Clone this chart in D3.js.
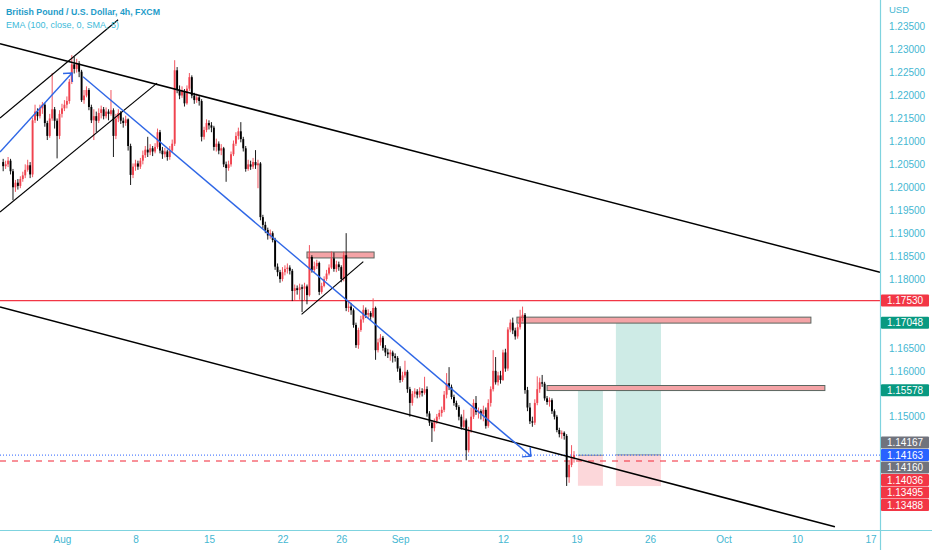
<!DOCTYPE html>
<html>
<head>
<meta charset="utf-8">
<script src="https://cdn.jsdelivr.net/npm/d3@7"></script>
<style>
  body { margin: 0; background: #ffffff; }
  text { font-family: "Liberation Sans", Arial, sans-serif; }
</style>
</head>
<body>
<div class="chart"></div>
<script>
// GBPUSD 4h candles (open = previous close)
let firstOpen = 1.2055;
let closes = [
  1.2046, 1.2050, 1.2058, 1.2035, 1.2000, 1.2010, 1.2003, 1.2018, 1.2026, 1.2038,
  1.2048, 1.2028, 1.2146, 1.2165, 1.2155, 1.2172, 1.2180, 1.2140, 1.2112, 1.2150,
  1.2170, 1.2145, 1.2112, 1.2160, 1.2172, 1.2180, 1.2188, 1.2230, 1.2268, 1.2258,
  1.2270, 1.2252, 1.2190, 1.2200, 1.2212, 1.2175, 1.2146, 1.2155, 1.2145, 1.2162,
  1.2170, 1.2155, 1.2165, 1.2160, 1.2168, 1.2112, 1.2150, 1.2162, 1.2145, 1.2140,
  1.2148, 1.2090, 1.2027, 1.2045, 1.2052, 1.2045, 1.2058, 1.2070, 1.2082, 1.2076,
  1.2085, 1.2078, 1.2088, 1.2120, 1.2080, 1.2072, 1.2078, 1.2066, 1.2080, 1.2095,
  1.2255, 1.2212, 1.2200, 1.2210, 1.2183, 1.2215, 1.2240, 1.2200, 1.2190, 1.2196,
  1.2188, 1.2110, 1.2125, 1.2140, 1.2135, 1.2130, 1.2088, 1.2095, 1.2080, 1.2085,
  1.2050, 1.2042, 1.2050, 1.2072, 1.2095, 1.2112, 1.2122, 1.2105, 1.2085, 1.2040,
  1.2050, 1.2045, 1.2055, 1.2048, 1.2052, 1.1935, 1.1918, 1.1907, 1.1895, 1.1900,
  1.1885, 1.1827, 1.1815, 1.1800, 1.1815, 1.1822, 1.1825, 1.1818, 1.1774, 1.1780,
  1.1776, 1.1782, 1.1779, 1.1784, 1.1765, 1.1848, 1.1820, 1.1828, 1.1835, 1.1772,
  1.1785, 1.1800, 1.1812, 1.1825, 1.1845, 1.1822, 1.1832, 1.1826, 1.1800, 1.1852,
  1.1737, 1.1740, 1.1732, 1.1700, 1.1656, 1.1689, 1.1712, 1.1733, 1.1722, 1.1726,
  1.1718, 1.1737, 1.1645, 1.1662, 1.1672, 1.1650, 1.1640, 1.1636, 1.1640, 1.1632,
  1.1628, 1.1605, 1.1580, 1.1590, 1.1598, 1.1560, 1.1530, 1.1550, 1.1555, 1.1548,
  1.1556, 1.1552, 1.1560, 1.1507, 1.1487, 1.1475, 1.1490, 1.1500, 1.1508, 1.1515,
  1.1548, 1.1573, 1.1565, 1.1543, 1.1530, 1.1521, 1.1500, 1.1478, 1.1492, 1.1427,
  1.1470, 1.1500, 1.1530, 1.1510, 1.1512, 1.1506, 1.1515, 1.1480, 1.1530, 1.1560,
  1.1600, 1.1575, 1.1590, 1.1580, 1.1640, 1.1605, 1.1690, 1.1705, 1.1688, 1.1675,
  1.1695, 1.1717, 1.1722, 1.1558, 1.1520, 1.1490, 1.1487, 1.1530, 1.1560, 1.1575,
  1.1572, 1.1540, 1.1532, 1.1536, 1.1512, 1.1500, 1.1471, 1.1462, 1.1465, 1.1458,
  1.1368, 1.1395, 1.1410, 1.1416
];
let highs = [
  1.2062, 1.2058, 1.2066, 1.2062, 1.2040, 1.2016, 1.2018, 1.2024, 1.2034, 1.2050,
  1.2060, 1.2055, 1.2152, 1.2180, 1.2172, 1.2180, 1.2186, 1.2184, 1.2145, 1.2160,
  1.2249, 1.2175, 1.2150, 1.2168, 1.2182, 1.2190, 1.2198, 1.2236, 1.2288, 1.2284,
  1.2280, 1.2275, 1.2256, 1.2212, 1.2220, 1.2216, 1.2180, 1.2170, 1.2165, 1.2172,
  1.2178, 1.2175, 1.2174, 1.2170, 1.2212, 1.2172, 1.2160, 1.2170, 1.2166, 1.2152,
  1.2156, 1.2150, 1.2095, 1.2052, 1.2060, 1.2058, 1.2064, 1.2080, 1.2090, 1.2110,
  1.2094, 1.2090, 1.2096, 1.2128, 1.2125, 1.2088, 1.2086, 1.2082, 1.2090, 1.2104,
  1.2277, 1.2262, 1.2222, 1.2220, 1.2214, 1.2222, 1.2249, 1.2244, 1.2206, 1.2204,
  1.2200, 1.2192, 1.2132, 1.2148, 1.2146, 1.2142, 1.2134, 1.2106, 1.2100, 1.2094,
  1.2088, 1.2056, 1.2058, 1.2078, 1.2102, 1.2120, 1.2130, 1.2142, 1.2110, 1.2090,
  1.2060, 1.2058, 1.2064, 1.2081, 1.2060, 1.2055, 1.1940, 1.1925, 1.1912, 1.1908,
  1.1904, 1.1890, 1.1834, 1.1820, 1.1826, 1.1830, 1.1834, 1.1830, 1.1822, 1.1788,
  1.1786, 1.1790, 1.1788, 1.1792, 1.1788, 1.1874, 1.1852, 1.1838, 1.1842, 1.1838,
  1.1792, 1.1806, 1.1820, 1.1832, 1.1860, 1.1858, 1.1840, 1.1838, 1.1830, 1.1860,
  1.1900, 1.1752, 1.1748, 1.1736, 1.1705, 1.1694, 1.1720, 1.1743, 1.1738, 1.1734,
  1.1730, 1.1758, 1.1740, 1.1670, 1.1680, 1.1676, 1.1656, 1.1648, 1.1646, 1.1644,
  1.1638, 1.1632, 1.1610, 1.1598, 1.1622, 1.1602, 1.1565, 1.1556, 1.1562, 1.1560,
  1.1564, 1.1562, 1.1587, 1.1566, 1.1512, 1.1492, 1.1496, 1.1506, 1.1515, 1.1522,
  1.1556, 1.1595, 1.1608, 1.1570, 1.1548, 1.1535, 1.1525, 1.1505, 1.1515, 1.1496,
  1.1478, 1.1520, 1.1538, 1.1545, 1.1520, 1.1516, 1.1524, 1.1520, 1.1538, 1.1566,
  1.1645, 1.1630, 1.1598, 1.1600, 1.1646, 1.1648, 1.1695, 1.1712, 1.1716, 1.1694,
  1.1702, 1.1733, 1.1740, 1.1726, 1.1565, 1.1530, 1.1500, 1.1538, 1.1588, 1.1585,
  1.1591, 1.1576, 1.1545, 1.1542, 1.1540, 1.1516, 1.1504, 1.1476, 1.1470, 1.1468,
  1.1462, 1.1402, 1.1438, 1.1425
];
let lows = [
  1.2035, 1.2040, 1.2044, 1.2028, 1.1972, 1.1990, 1.1995, 1.1998, 1.2012, 1.2020,
  1.2034, 1.2020, 1.2022, 1.2140, 1.2145, 1.2150, 1.2160, 1.2132, 1.2103, 1.2108,
  1.2145, 1.2128, 1.2063, 1.2105, 1.2152, 1.2166, 1.2172, 1.2182, 1.2225, 1.2248,
  1.2250, 1.2240, 1.2186, 1.2182, 1.2196, 1.2168, 1.2140, 1.2103, 1.2120, 1.2140,
  1.2150, 1.2148, 1.2150, 1.2146, 1.2156, 1.2066, 1.2105, 1.2142, 1.2138, 1.2130,
  1.2134, 1.2080, 1.2005, 1.2020, 1.2036, 1.2038, 1.2040, 1.2050, 1.2064, 1.2066,
  1.2070, 1.2068, 1.2074, 1.2084, 1.2074, 1.2062, 1.2065, 1.2058, 1.2060, 1.2075,
  1.2090, 1.2205, 1.2192, 1.2195, 1.2176, 1.2180, 1.2210, 1.2194, 1.2182, 1.2184,
  1.2178, 1.2100, 1.2104, 1.2120, 1.2126, 1.2120, 1.2080, 1.2078, 1.2072, 1.2070,
  1.2044, 1.2012, 1.2036, 1.2045, 1.2068, 1.2090, 1.2104, 1.2098, 1.2078, 1.2034,
  1.2036, 1.2038, 1.2040, 1.2040, 1.1998, 1.1928, 1.1910, 1.1900, 1.1886, 1.1888,
  1.1880, 1.1820, 1.1806, 1.1792, 1.1795, 1.1808, 1.1812, 1.1810, 1.1752, 1.1754,
  1.1766, 1.1755, 1.1728, 1.1752, 1.1745, 1.1762, 1.1814, 1.1815, 1.1822, 1.1765,
  1.1768, 1.1782, 1.1796, 1.1808, 1.1822, 1.1816, 1.1815, 1.1818, 1.1793, 1.1795,
  1.1730, 1.1728, 1.1722, 1.1694, 1.1650, 1.1648, 1.1685, 1.1705, 1.1715, 1.1714,
  1.1710, 1.1715, 1.1624, 1.1640, 1.1655, 1.1644, 1.1632, 1.1628, 1.1622, 1.1618,
  1.1620, 1.1598, 1.1574, 1.1576, 1.1585, 1.1552, 1.1500, 1.1524, 1.1542, 1.1540,
  1.1542, 1.1544, 1.1548, 1.1500, 1.1480, 1.1445, 1.1468, 1.1484, 1.1494, 1.1500,
  1.1510, 1.1540, 1.1558, 1.1538, 1.1524, 1.1515, 1.1492, 1.1472, 1.1475, 1.1405,
  1.1422, 1.1465, 1.1495, 1.1504, 1.1496, 1.1494, 1.1490, 1.1474, 1.1476, 1.1522,
  1.1555, 1.1570, 1.1568, 1.1572, 1.1578, 1.1598, 1.1600, 1.1684, 1.1680, 1.1668,
  1.1670, 1.1690, 1.1708, 1.1550, 1.1512, 1.1484, 1.1478, 1.1482, 1.1525, 1.1552,
  1.1565, 1.1535, 1.1526, 1.1522, 1.1506, 1.1494, 1.1466, 1.1455, 1.1452, 1.1450,
  1.1349, 1.1356, 1.1390, 1.1400
];

// time axis: trading-day index (first bar = Jul 26), 6 bars a day
let barsPerDay = 6;
let dateDays = [4, 9, 14, 19, 23, 27, 34, 39, 44, 49, 54, 59];
let dateLabels = ["Aug", "8", "15", "22", "26", "Sep", "12", "19", "26", "Oct", "10", "17"];

// price axis
let priceTicks = [1.235, 1.23, 1.225, 1.22, 1.215, 1.21, 1.205, 1.2, 1.195, 1.19, 1.185,
  1.18, 1.175, 1.17, 1.165, 1.16, 1.155, 1.15, 1.145, 1.14, 1.135];

// drawings, anchored in [bar, price]
let channelLines = [
  [[-1.3, 1.2313], [357.9, 1.1815]],
  [[-1.3, 1.1739], [339.5, 1.1260]],
  [[-1.3, 1.2151], [46.9, 1.2365]],
  [[-1.3, 1.1946], [62.8, 1.2227]],
  [[121.8, 1.1723], [147, 1.1838]]
];
let arrowLines = [
  [[-1.3, 1.2077], [28.1, 1.2249]],
  [[32.6, 1.2241], [215.4, 1.1414]]
];
// zones: start bar, end bar, top price, bottom price
let zoneStart = [124, 209.7, 222];
let zoneEnd = [151.4, 329.7, 335.4];
let zoneTop = [1.1859, 1.1717, 1.1568];
let zoneBottom = [1.1846, 1.1704, 1.1557];
// long positions: start bar, end bar, entry, target, stop
let posStart = [234.6, 250.1];
let posEnd = [244.8, 268.5];
let posEntry = [1.1416, 1.14167];
let posTarget = [1.15578, 1.17048];
let posStop = [1.13495, 1.13488];

// horizontal lines
let resistance = 1.1753;
let lastPrice = 1.14163;
let dashedLevel = 1.14036;

// price tags on the scale
let tagValues = [1.1753, 1.17048, 1.15578, 1.14167, 1.14163, 1.1416, 1.14036, 1.13495, 1.13488];
let tagColors = ["#f23645", "#089981", "#089981", "#70737d", "#2962ff", "#70737d", "#f23645", "#f23645", "#f23645"];

// sizes
let width = 932;
let height = 550;
let plotW = 880;
let plotH = 530;
let axisColor = "#7fd3df";
let labelColor = "#45b7d2";
let tagH = 12.5;

let svg = d3
  .select(".chart")
  .append("svg")
  .attr("width", width)
  .attr("height", height)
  .style("display", "block");

let x = d3.scaleLinear().domain([-1.3, 357.9]).range([0, plotW]);
let y = d3.scaleLinear().domain([1.15, 1.235]).range([416.7, 26.7]);

svg.append("defs")
  .append("clipPath")
  .attr("id", "plot")
  .append("rect")
  .attr("width", plotW)
  .attr("height", plotH);

let plot = svg.append("g").attr("clip-path", "url(#plot)");

// build candles
let candles = closes.map(function (c, i) {
  let o = i === 0 ? firstOpen : closes[i - 1];
  return {
    i: i,
    o: o,
    c: c,
    h: Math.max(highs[i], o, c),
    l: Math.min(lows[i], o, c)
  };
});

// position tools
posStart.forEach(function (s, k) {
  let x0 = x(s), x1 = x(posEnd[k]);
  plot.append("rect")
    .attr("x", x0).attr("width", x1 - x0)
    .attr("y", y(posTarget[k])).attr("height", y(posEntry[k]) - y(posTarget[k]))
    .attr("fill", "rgba(8,153,129,0.2)");
  plot.append("rect")
    .attr("x", x0).attr("width", x1 - x0)
    .attr("y", y(posEntry[k])).attr("height", y(posStop[k]) - y(posEntry[k]))
    .attr("fill", "rgba(242,54,69,0.2)");
  plot.append("line")
    .attr("x1", x0).attr("x2", x1)
    .attr("y1", y(posEntry[k])).attr("y2", y(posEntry[k]))
    .attr("stroke", "#8a8d96").attr("stroke-width", 1);
});

// zones
zoneStart.forEach(function (s, k) {
  plot.append("rect")
    .attr("x", x(s)).attr("width", x(zoneEnd[k]) - x(s))
    .attr("y", y(zoneTop[k])).attr("height", y(zoneBottom[k]) - y(zoneTop[k]))
    .attr("fill", "#f4a3a6")
    .attr("stroke", "#5b6660")
    .attr("stroke-width", 1);
});

// horizontal levels
plot.append("line")
  .attr("x1", 0).attr("x2", plotW)
  .attr("y1", y(resistance)).attr("y2", y(resistance))
  .attr("stroke", "#f23645").attr("stroke-width", 1.3);
plot.append("line")
  .attr("x1", 0).attr("x2", plotW)
  .attr("y1", y(lastPrice)).attr("y2", y(lastPrice))
  .attr("stroke", "#2962ff").attr("stroke-width", 1)
  .attr("stroke-dasharray", "1,2");
plot.append("line")
  .attr("x1", 0).attr("x2", plotW)
  .attr("y1", y(dashedLevel)).attr("y2", y(dashedLevel))
  .attr("stroke", "rgba(242,54,69,0.55)").attr("stroke-width", 2)
  .attr("stroke-dasharray", "6,6");

// candles
let upColor = "#f0434f";
let downColor = "#000000";
let bodyW = 1.9;

plot.selectAll(".wick")
  .data(candles)
  .enter()
  .append("line")
  .attr("x1", d => x(d.i)).attr("x2", d => x(d.i))
  .attr("y1", d => y(d.h)).attr("y2", d => y(d.l))
  .attr("stroke", d => (d.c >= d.o ? upColor : downColor))
  .attr("stroke-width", 0.9);

plot.selectAll(".body")
  .data(candles)
  .enter()
  .append("rect")
  .attr("x", d => x(d.i) - bodyW / 2)
  .attr("width", bodyW)
  .attr("y", d => y(Math.max(d.o, d.c)))
  .attr("height", d => Math.max(1, Math.abs(y(d.o) - y(d.c))))
  .attr("fill", d => (d.c >= d.o ? upColor : downColor));

// trend lines
let lineGen = d3.line().x(d => x(d[0])).y(d => y(d[1]));
channelLines.forEach(function (pts, k) {
  plot.append("path")
    .attr("d", lineGen(pts))
    .attr("fill", "none")
    .attr("stroke", "#000")
    .attr("stroke-width", k < 2 ? 1.5 : 1.2);
});

arrowLines.forEach(function (pts) {
  plot.append("path")
    .attr("d", lineGen(pts))
    .attr("fill", "none")
    .attr("stroke", "#2f67e6")
    .attr("stroke-width", 1.4);
  // arrow head
  let tx = x(pts[1][0]), ty = y(pts[1][1]);
  let ang = Math.atan2(ty - y(pts[0][1]), tx - x(pts[0][0]));
  let len = 9;
  let head = [
    [tx + len * Math.cos(ang + Math.PI - Math.PI / 4), ty + len * Math.sin(ang + Math.PI - Math.PI / 4)],
    [tx, ty],
    [tx + len * Math.cos(ang + Math.PI + Math.PI / 4), ty + len * Math.sin(ang + Math.PI + Math.PI / 4)]
  ];
  plot.append("path")
    .attr("d", d3.line()(head))
    .attr("fill", "none")
    .attr("stroke", "#2f67e6")
    .attr("stroke-width", 1.4);
});

// price tags, stacked around the last price so they don't overlap
let tags = tagValues.map((v, k) => ({ v: v, color: tagColors[k], pos: y(v) }));
let anchor = tagValues.indexOf(lastPrice);
for (let k = anchor - 1; k >= 0; k--) {
  tags[k].pos = Math.min(tags[k].pos, tags[k + 1].pos - tagH);
}
for (let k = anchor + 1; k < tags.length; k++) {
  tags[k].pos = Math.max(tags[k].pos, tags[k - 1].pos + tagH);
}

// price axis: labels hidden behind a tag are left out
let visibleTicks = priceTicks.filter(p =>
  tags.every(t => Math.abs(t.pos - y(p)) > tagH));
let yAxis = svg.append("g")
  .attr("transform", "translate(" + plotW + ",0)")
  .call(d3.axisRight(y).tickValues(visibleTicks).tickFormat(d3.format(".5f")).tickSize(0).tickPadding(9));
yAxis.select(".domain").remove();
yAxis.selectAll("text")
  .attr("fill", labelColor)
  .style("font-size", "10px");

// time axis
let xAxis = svg.append("g")
  .attr("transform", "translate(0," + plotH + ")")
  .call(d3.axisBottom(x)
    .tickValues(dateDays.map(d => d * barsPerDay))
    .tickFormat((d, i) => dateLabels[i])
    .tickSize(0)
    .tickPadding(6));
xAxis.select(".domain").remove();
xAxis.selectAll("text")
  .attr("fill", labelColor)
  .style("font-size", "10px");

// axis border lines
svg.append("line")
  .attr("x1", 0).attr("x2", width)
  .attr("y1", plotH + 0.5).attr("y2", plotH + 0.5)
  .attr("stroke", axisColor).attr("stroke-width", 1);
svg.append("line")
  .attr("x1", plotW + 0.5).attr("x2", plotW + 0.5)
  .attr("y1", 0).attr("y2", height)
  .attr("stroke", axisColor).attr("stroke-width", 1.2);

svg.append("text")
  .attr("x", 889).attr("y", 13)
  .attr("fill", labelColor)
  .style("font-size", "9.5px")
  .text("USD");

let tagG = svg.selectAll(".tag")
  .data(tags)
  .enter()
  .append("g")
  .attr("transform", d => "translate(881," + d.pos + ")");
tagG.append("rect")
  .attr("x", 0).attr("y", -6)
  .attr("width", 48).attr("height", 12)
  .attr("rx", 1)
  .attr("fill", d => d.color);
tagG.append("text")
  .attr("x", 24).attr("y", 0)
  .attr("dy", "0.36em")
  .attr("text-anchor", "middle")
  .attr("fill", "#ffffff")
  .style("font-size", "10px")
  .text(d => d3.format(".5f")(d.v));

// legend
svg.append("text")
  .attr("x", 6).attr("y", 15)
  .attr("fill", "#1f9cc9")
  .style("font-size", "8.8px")
  .style("font-weight", "bold")
  .text("British Pound / U.S. Dollar, 4h, FXCM");
svg.append("text")
  .attr("x", 6).attr("y", 28)
  .attr("fill", "#3dbad9")
  .style("font-size", "9px")
  .text("EMA (100, close, 0, SMA, 5)");
</script>
</body>
</html>
